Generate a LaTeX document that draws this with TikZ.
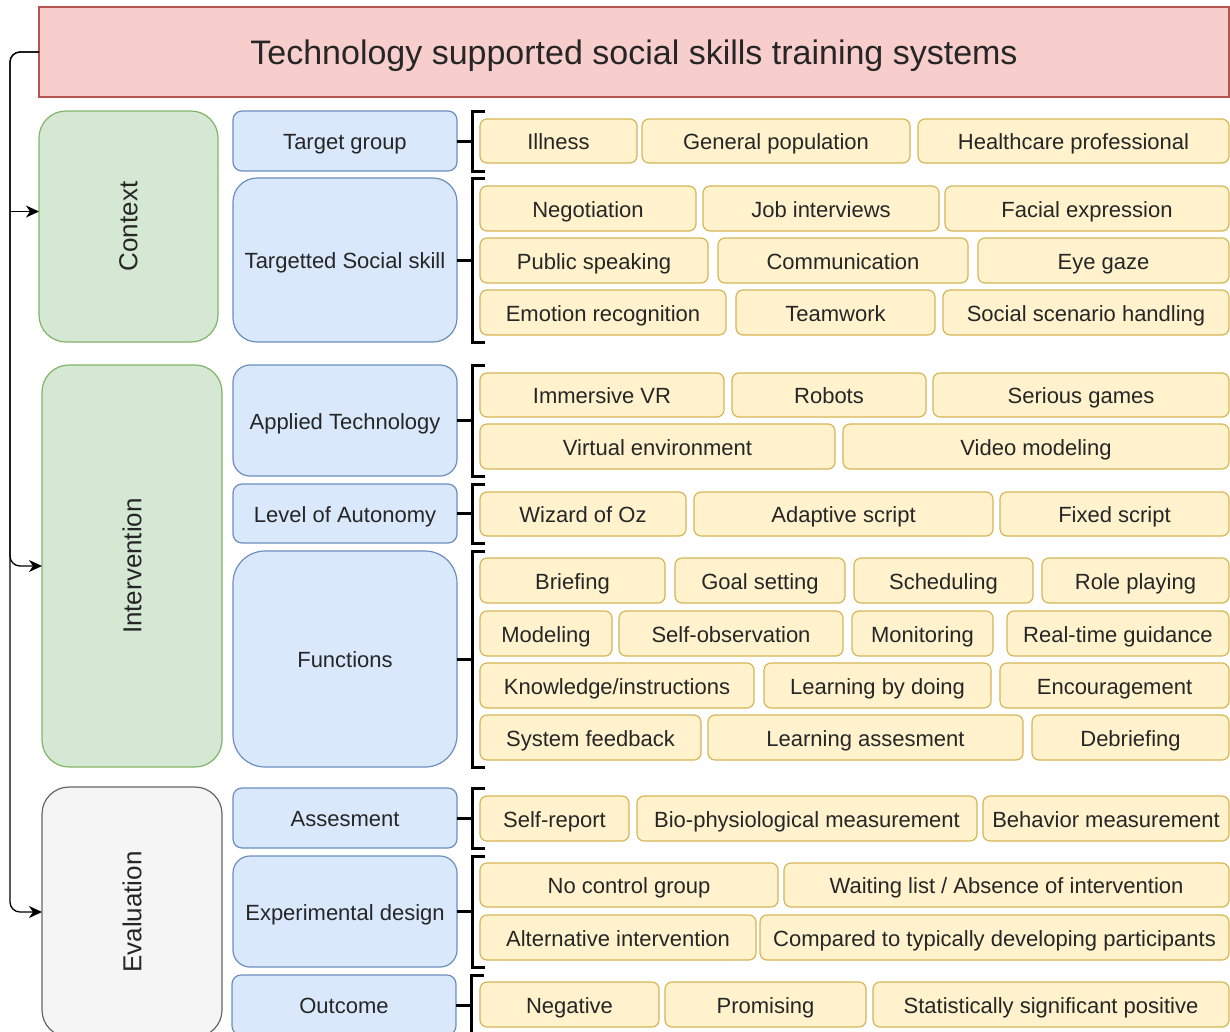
\documentclass[tikz,border=0pt]{standalone}
\usepackage{fontspec}
\setmainfont{Liberation Sans}
\usetikzlibrary{arrows.meta,calc}
\definecolor{redF}{HTML}{F8CECC}\definecolor{redD}{HTML}{B85450}
\definecolor{greF}{HTML}{D5E8D4}\definecolor{greD}{HTML}{82B366}
\definecolor{grayF}{HTML}{F5F5F5}\definecolor{grayD}{HTML}{666666}
\definecolor{bluF}{HTML}{DAE8FC}\definecolor{bluD}{HTML}{6C8EBF}
\definecolor{yelF}{HTML}{FFF2CC}\definecolor{yelD}{HTML}{D6B656}
\definecolor{txt}{HTML}{262626}
% style, name, x1, y1, x2, y2, text
\newcommand{\bx}[7]{%
  \node[#1, anchor=north west, minimum width={#5pt-#3pt}, minimum height={#6pt-#4pt}] (#2) at (#3,#4) {#7};}
\newcommand{\brkt}[1]{%
  \draw[brk] (#1.east) -- ++(15,0);
  \draw[brk] ([xshift=28pt]#1.north east) -- ([xshift=15pt]#1.north east) -- ([xshift=15pt]#1.south east) -- ([xshift=28pt]#1.south east);}
\tikzset{
  box/.style={draw, line width=1.2pt, inner sep=0pt, outer sep=0pt, text=txt, font=\fontsize{22}{26}\selectfont},
  lbl/.style={text height=17.8pt, text depth=0pt},
  ybox/.style={box, lbl, fill=yelF, draw=yelD, rounded corners=7pt},
  bbox/.style={box, lbl, fill=bluF, draw=bluD},
  gbox/.style={box, fill=greF, draw=greD, rounded corners=27pt, font=\fontsize{26}{30}\selectfont},
  ebox/.style={box, fill=grayF, draw=grayD, rounded corners=27pt, font=\fontsize{26}{30}\selectfont},
  tbox/.style={box, fill=redF, draw=redD, font=\fontsize{34}{40}\selectfont, text height=24.4pt, text depth=0pt},
  brk/.style={line width=3pt, draw=black, line join=miter},
  conn/.style={line width=1.3pt, draw=black, -{Stealth[length=13pt, width=12pt, inset=4pt]}},
}
\begin{document}
\begin{tikzpicture}[x=1pt, y=-1pt]
\useasboundingbox (0,0) rectangle (1230,1031);
\clip (0,0) rectangle (1230,1031);

% title
\bx{tbox}{title}{39}{7}{1229}{97}{Technology supported social skills training systems}

% categories
\bx{gbox}{ctx}{39}{111}{218}{342}{\rotatebox{90}{Context}}
\bx{gbox}{int}{42}{365}{222}{767}{\rotatebox{90}{Intervention}}
\bx{ebox}{eva}{42}{787}{222}{1037}{\rotatebox{90}{Evaluation}}

% sub-categories
\bx{bbox, rounded corners=9pt}{tg}{233}{111}{457}{171}{Target group}
\bx{bbox, rounded corners=24pt}{ss}{233}{178}{457}{342}{Targetted Social skill}
\bx{bbox, rounded corners=17pt}{at}{233}{365}{457}{476}{Applied Technology}
\bx{bbox, rounded corners=9pt}{la}{233}{484}{457}{543}{Level of Autonomy}
\bx{bbox, rounded corners=32pt}{fn}{233}{551}{457}{767}{Functions}
\bx{bbox, rounded corners=9pt}{as}{233}{788}{457}{848}{Assesment}
\bx{bbox, rounded corners=17pt}{ed}{233}{856}{457}{967}{Experimental design}
\bx{bbox, rounded corners=9pt}{oc}{232}{975}{456}{1035}{Outcome}

% brackets
\brkt{tg}\brkt{ss}\brkt{at}\brkt{la}\brkt{fn}\brkt{as}\brkt{ed}\brkt{oc}

% items
\bx{ybox}{il}{480}{119}{637}{163}{Illness}
\bx{ybox}{gp}{642}{119}{910}{163}{General population}
\bx{ybox}{hp}{918}{119}{1229}{163}{Healthcare professional}

\bx{ybox}{ng}{480}{186}{696}{231}{Negotiation}
\bx{ybox}{ji}{703}{186}{939}{231}{Job interviews}
\bx{ybox}{fe}{945}{186}{1229}{231}{Facial expression}
\bx{ybox}{ps}{480}{238}{708}{283}{Public speaking}
\bx{ybox}{cm}{718}{238}{968}{283}{Communication}
\bx{ybox}{eg}{978}{238}{1229}{283}{Eye gaze}
\bx{ybox}{er}{480}{290}{726}{335}{Emotion recognition}
\bx{ybox}{tw}{736}{290}{935}{335}{Teamwork}
\bx{ybox}{sc}{943}{290}{1229}{335}{Social scenario handling}

\bx{ybox}{iv}{480}{373}{724}{417}{Immersive VR}
\bx{ybox}{rb}{732}{373}{926}{417}{Robots}
\bx{ybox}{sg}{933}{373}{1229}{417}{Serious games}
\bx{ybox}{ve}{480}{424}{835}{469}{Virtual environment}
\bx{ybox}{vm}{843}{424}{1229}{469}{Video modeling}

\bx{ybox}{wo}{480}{492}{686}{536}{Wizard of Oz}
\bx{ybox}{ad}{694}{492}{993}{536}{Adaptive script}
\bx{ybox}{fx}{1000}{492}{1229}{536}{Fixed script}

\bx{ybox}{br}{480}{558}{665}{603}{Briefing}
\bx{ybox}{gs}{675}{558}{845}{603}{Goal setting}
\bx{ybox}{sch}{854}{558}{1033}{603}{Scheduling}
\bx{ybox}{rp}{1042}{558}{1229}{603}{Role playing}
\bx{ybox}{md}{480}{611}{612}{656}{Modeling}
\bx{ybox}{so}{619}{611}{843}{656}{Self-observation}
\bx{ybox}{mo}{852}{611}{993}{656}{Monitoring}
\bx{ybox}{rt}{1007}{611}{1229}{656}{Real-time guidance}
\bx{ybox}{kn}{480}{663}{754}{708}{Knowledge/instructions}
\bx{ybox}{lbd}{764}{663}{991}{708}{Learning by doing}
\bx{ybox}{en}{1000}{663}{1229}{708}{Encouragement}
\bx{ybox}{sf}{480}{715}{701}{760}{System feedback}
\bx{ybox}{las}{708}{715}{1023}{760}{Learning assesment}
\bx{ybox}{db}{1032}{715}{1229}{760}{Debriefing}

\bx{ybox}{sr}{480}{796}{629}{841}{Self-report}
\bx{ybox}{bp}{637}{796}{977}{841}{Bio-physiological measurement}
\bx{ybox}{bm}{983}{796}{1229}{841}{Behavior measurement}

\bx{ybox}{nc}{480}{863}{778}{907}{No control group}
\bx{ybox}{wl}{784}{863}{1229}{907}{Waiting list / Absence of intervention}
\bx{ybox}{ai}{480}{915}{756}{960}{Alternative intervention}
\bx{ybox}{ct}{760}{915}{1229}{960}{Compared to typically developing participants}

\bx{ybox}{neg}{480}{982}{659}{1027}{Negative}
\bx{ybox}{pr}{665}{982}{866}{1027}{Promising}
\bx{ybox}{st}{873}{982}{1229}{1027}{Statistically significant positive}

% connectors
\coordinate (lane) at (10,0);
\coordinate (ctxa) at ([yshift=15pt]ctx.west);
\draw[conn, rounded corners=10pt] (title.west) -| (lane |- eva.west) -- (eva.west);
\draw[conn, rounded corners=10pt] (title.west) -| (lane |- int.west) -- (int.west);
\draw[conn] (lane |- ctxa) -- (ctxa);
\end{tikzpicture}
\end{document}
